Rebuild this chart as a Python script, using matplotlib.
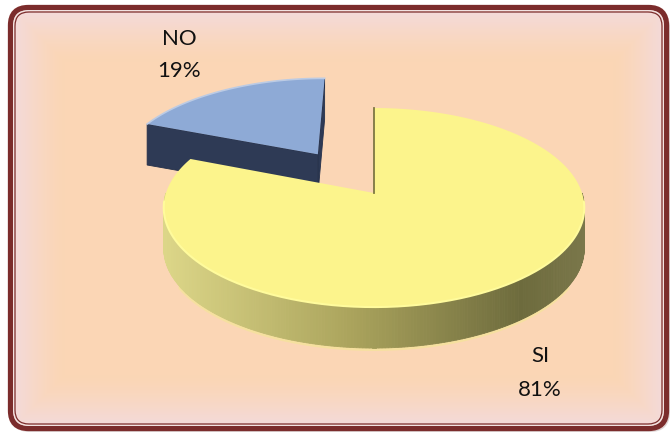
import numpy as np
import matplotlib
matplotlib.use('Agg')
import matplotlib.pyplot as plt
from matplotlib.patches import Polygon, FancyBboxPatch
from matplotlib.colors import LinearSegmentedColormap, to_rgb

# survey answers
labels = ['SI', 'NO']
values = [81, 19]
explode = [0.0, 0.51]
top_colors = ['#fcf48c', '#8eaad6']
side_colors = ['#a39d57', '#2e3a55']
label_pos = [(540, 356, 390), (179, 39, 71)]

# pseudo-3D projection (pixel space, y grows downward)
CX, CY = 374, 193
A, B, K = 208, 97.4, 0.146
H = 41

si_wall = LinearSegmentedColormap.from_list(
    'si_wall', [(0.0, '#dcd688'), (0.45, '#aaa35c'), (0.85, '#6d6b3d'), (1.0, '#7a774a')])


def project(X, Y, Z=0.0):
    w = 1 + K * Y
    return CX + A * X / w, CY - B * Y / w + H * Z


def rim(t, off, Z=0.0):
    r = np.radians(t)
    return project(off[0] + np.sin(r), off[1] + np.cos(r), Z)


def slice_angles(vals):
    total = float(sum(vals))
    out, start = [], 0.0
    for v in vals:
        span = 360.0 * v / total
        out.append((start, start + span))
        start += span
    return out


fig = plt.figure(figsize=(6.72, 4.33), dpi=100)
ax = fig.add_axes([0, 0, 1, 1])
ax.set_xlim(0, 672)
ax.set_ylim(433, 0)
ax.axis('off')

# frame, shadow and gradient background
ax.add_patch(FancyBboxPatch((10, 8), 660, 424, boxstyle='round,pad=0,rounding_size=20',
                            facecolor='#c9bcbc', edgecolor='none', alpha=0.6, zorder=0))
ax.add_patch(FancyBboxPatch((8, 5), 661, 426, boxstyle='round,pad=0,rounding_size=20',
                            facecolor='#f6dcd6', edgecolor='none', zorder=0.5))
inner = FancyBboxPatch((15, 12), 647, 412, boxstyle='round,pad=0,rounding_size=14',
                       facecolor='none', edgecolor='none', zorder=1)
ax.add_patch(inner)
yy, xx = np.mgrid[0:433, 0:672]
d = np.minimum.reduce([xx - 15.0, 662.0 - xx, yy - 12.0, 424.0 - yy])
t = np.clip(1 - d / 50.0, 0, 1) ** 1.4
peach, pink = np.array(to_rgb('#fbd6b5')), np.array(to_rgb('#f4dada'))
grad = peach[None, None, :] * (1 - t[..., None]) + pink[None, None, :] * t[..., None]
im = ax.imshow(grad, extent=(0, 672, 433, 0), zorder=1, interpolation='bilinear')
im.set_clip_path(inner)

ax.add_patch(FancyBboxPatch((10.5, 7.5), 656, 421, boxstyle='round,pad=0,rounding_size=18',
                            facecolor='none', edgecolor='#7b2c2c', lw=3.8, zorder=5))
ax.add_patch(FancyBboxPatch((13.5, 10.5), 650, 415, boxstyle='round,pad=0,rounding_size=16',
                            facecolor='none', edgecolor='#f3e4e4', lw=0.7, zorder=5))
ax.add_patch(FancyBboxPatch((15, 12), 647, 412, boxstyle='round,pad=0,rounding_size=14',
                            facecolor='none', edgecolor='#7b2c2c', lw=0.9, zorder=5))

angles = slice_angles(values)
offsets = []
for (t0, t1), e in zip(angles, explode):
    mid = np.radians((t0 + t1) / 2)
    offsets.append((e * np.sin(mid), e * np.cos(mid)))

# NO slice: sits behind, draw first
t0, t1 = angles[1]
off = offsets[1]
apex_t = project(off[0], off[1])
apex_b = project(off[0], off[1], 1)
for ta in (t1, t0):
    p_t, p_b = rim(ta, off), rim(ta, off, 1)
    ax.add_patch(Polygon([apex_t, p_t, p_b, apex_b], closed=True,
                         facecolor=side_colors[1], edgecolor='#24304a', lw=0.6, zorder=3))
ts = np.linspace(t0, t1, 80)
arc = [rim(a, off) for a in ts]
ax.add_patch(Polygon([apex_t] + arc, closed=True, facecolor=top_colors[1],
                     edgecolor='none', zorder=3.2))
ax.plot([p[0] for p in arc], [p[1] for p in arc], color='#bccbe4', lw=1.2, zorder=3.3)

# SI slice: front wall with shading
t0, t1 = angles[0]
off = offsets[0]
ts = np.linspace(90, 270, 240)
xs_all = [rim(a, off)[0] for a in ts]
xmin, xmax = min(xs_all), max(xs_all)
for a0, a1 in zip(ts[:-1], ts[1:]):
    q = [rim(a0, off), rim(a1, off), rim(a1, off, 1), rim(a0, off, 1)]
    c = si_wall((0.5 * (q[0][0] + q[1][0]) - xmin) / (xmax - xmin))
    ax.add_patch(Polygon(q, closed=True, facecolor=c, edgecolor=c, lw=0.6, zorder=3.5))
# soft yellow reflection under the wall
bottom = [rim(a, off, 1) for a in np.linspace(120, 240, 150)]
ax.plot([p[0] for p in bottom], [p[1] + 1.5 for p in bottom], color='#f3ea8e',
        lw=2.0, alpha=0.55, zorder=3.4, solid_capstyle='round')

apex_t = project(off[0], off[1])
ts = np.linspace(t0, t1, 300)
arc = [rim(a, off) for a in ts]
ax.add_patch(Polygon([apex_t] + arc, closed=True, facecolor=top_colors[0],
                     edgecolor='none', zorder=4))
front = [rim(a, off) for a in np.linspace(95, 265, 200)]
ax.plot([p[0] for p in front], [p[1] for p in front], color='#fffb9c', lw=1.5, zorder=4.1)
p0 = rim(0, off)
ax.plot([p0[0], apex_t[0]], [p0[1], apex_t[1]], color='#7d7742', lw=1.3, zorder=4.2)

# data labels
for lab, v, (x, y1, y2) in zip(labels, values, label_pos):
    ax.text(x, y1, lab, ha='center', va='center', fontsize=16, family=['Lato', 'DejaVu Sans'],
            color='#111111', zorder=6)
    ax.text(x, y2, f'{v}%', ha='center', va='center', fontsize=16, family=['Lato', 'DejaVu Sans'],
            color='#111111', zorder=6)

fig.savefig('out.png', dpi=100)
